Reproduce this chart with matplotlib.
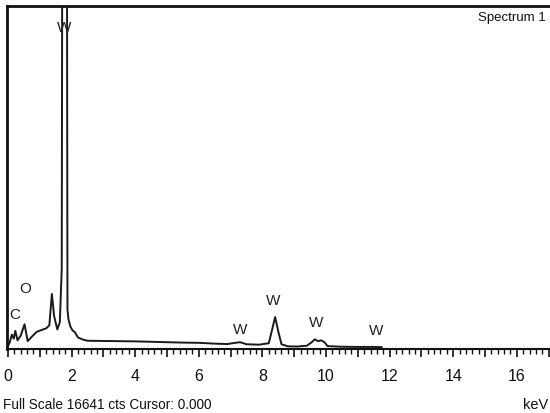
import matplotlib
matplotlib.use("Agg")
import matplotlib.pyplot as plt
from matplotlib.ticker import MultipleLocator, FuncFormatter

plt.rcParams['font.family'] = ['Liberation Sans', 'DejaVu Sans']

# spectrum (energy in keV, counts)
energy = [0.00, 0.05, 0.12, 0.18, 0.23, 0.30, 0.40, 0.52, 0.62, 0.75, 0.90, 1.05, 1.20, 1.30,
          1.38, 1.45, 1.55, 1.63, 1.69, 1.71, 1.74, 1.80, 1.85, 1.87, 1.90, 1.96, 2.03, 2.10,
          2.20, 2.35, 2.50, 3.00, 3.50, 4.00, 4.50, 5.00, 5.50, 6.00, 6.50, 6.90, 7.10, 7.30,
          7.50, 7.90, 8.20, 8.30, 8.40, 8.50, 8.60, 8.80, 9.10, 9.40, 9.55, 9.65, 9.75, 9.85,
          9.95, 10.05, 10.50, 11.00, 11.50, 11.75]
counts = [150, 300, 700, 500, 880, 420, 650, 1200, 380, 600, 830, 920, 1000, 1150,
          2670, 1600, 950, 1300, 3900, 24000, 26000, 26000, 24000, 1900, 1450, 1100, 900, 820,
          560, 460, 400, 390, 380, 370, 350, 330, 310, 300, 260, 240, 290, 330,
          230, 210, 280, 900, 1550, 850, 230, 130, 120, 160, 330, 470, 380, 420,
          330, 140, 110, 100, 100, 90]

full_scale = 16641
xtick_major = 1
xtick_minor = 0.2
max_label = 16

# element labels (text, energy, counts position)
labels = [("W", 1.78, 15300), ("O", 0.55, 2600), ("C", 0.20, 1350),
          ("W", 7.30, 650), ("W", 8.35, 2050), ("W", 9.70, 950), ("W", 11.57, 600)]

fig = plt.figure(figsize=(5.5, 4.14), dpi=100)
W, H = 550, 414
left_px, top_px, bottom_px, right_px = 7, 7, 350, 620
ax = fig.add_axes([left_px / W, (H - bottom_px) / H, (right_px - left_px) / W, (bottom_px - top_px) / H])

px_per_kev = 31.8
x0 = -1 / px_per_kev
ax.set_xlim(x0, x0 + (right_px - left_px) / px_per_kev)
ax.set_ylim(0, full_scale)

ax.plot(energy, counts, color='#1a1a1a', lw=1.4, clip_on=True)

for t, e, c in labels:
    ax.text(e, c, t, ha='center', va='bottom', fontsize=11, color='#222222')

for s in ['left', 'top']:
    ax.spines[s].set_linewidth(2.0)
    ax.spines[s].set_color('#111111')
ax.spines['bottom'].set_linewidth(1.5)
ax.spines['bottom'].set_color('#111111')
ax.spines['right'].set_visible(False)

ax.xaxis.set_major_locator(MultipleLocator(xtick_major))
ax.xaxis.set_minor_locator(MultipleLocator(xtick_minor))
ax.xaxis.set_major_formatter(FuncFormatter(
    lambda v, p: f"{int(round(v))}" if round(v) % 2 == 0 and 0 <= v <= max_label else ""))
ax.tick_params(axis='x', which='major', direction='out', length=5.5, width=1.2, pad=8, labelsize=11.5, colors='#111111')
ax.tick_params(axis='x', which='minor', direction='out', length=3.5, width=1.0, colors='#111111')
ax.set_yticks([])

fig.text(3 / W, (H - 405) / H, f"Full Scale {full_scale} cts Cursor: 0.000", ha='left', va='center',
         fontsize=9.8, color='#111111')
fig.text(548 / W, (H - 405) / H, "keV", ha='right', va='center', fontsize=10.5, color='#111111')
fig.text(546 / W, (H - 18) / H, "Spectrum 1", ha='right', va='center', fontsize=9.5, color='#111111')

fig.savefig("out.png", dpi=100)
